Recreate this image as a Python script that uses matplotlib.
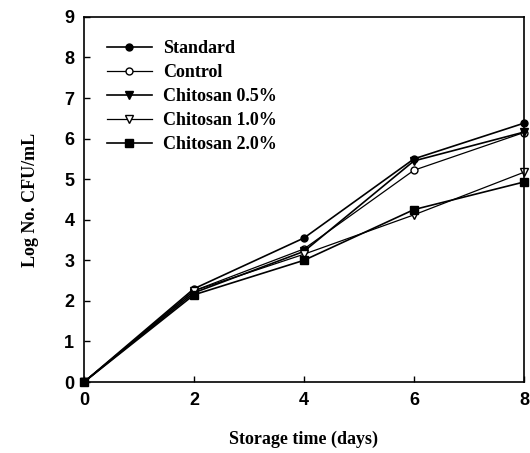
import matplotlib
matplotlib.use("Agg")
import matplotlib.pyplot as plt

days = [0, 2, 4, 6, 8]
standard = [0.0, 2.30, 3.55, 5.50, 6.38]
control = [0.0, 2.25, 3.28, 5.22, 6.15]
chitosan_05 = [0.0, 2.20, 3.22, 5.45, 6.16]
chitosan_10 = [0.0, 2.25, 3.15, 4.12, 5.17]
chitosan_20 = [0.0, 2.15, 3.00, 4.25, 4.93]
labels = ["Standard", "Control", "Chitosan 0.5%", "Chitosan 1.0%", "Chitosan 2.0%"]

fig = plt.figure(figsize=(5.30, 4.53), dpi=100)
ax = fig.add_axes([0.1585, 0.1567, 0.830, 0.806])

styles = [
    dict(marker="o", mfc="black", ms=5, lw=1.2),
    dict(marker="o", mfc="white", ms=5, lw=0.9),
    dict(marker="v", mfc="black", ms=6, lw=1.2),
    dict(marker="v", mfc="white", ms=6, lw=0.9),
    dict(marker="s", mfc="black", ms=6, lw=1.2),
]
for ys, lab, st in zip([standard, control, chitosan_05, chitosan_10, chitosan_20], labels, styles):
    ax.plot(days, ys, color="black", mec="black", label=lab, clip_on=False, **st)

ax.set_xlim(0, 8)
ax.set_ylim(0, 9)
ax.set_xticks([0, 2, 4, 6, 8])
ax.set_yticks(range(0, 10))
ax.tick_params(direction="in", length=4, width=1, labelsize=13, pad=7)
for lbl in ax.get_xticklabels() + ax.get_yticklabels():
    lbl.set_fontfamily("Liberation Sans")
    lbl.set_fontweight("bold")
for s in ax.spines.values():
    s.set_linewidth(1.2)

ax.set_xlabel("Storage time (days)", fontfamily="Liberation Serif", fontweight="bold",
              fontsize=13, labelpad=16)
ax.set_ylabel("Log No. CFU/mL", fontfamily="Liberation Serif", fontweight="bold",
              fontsize=13, labelpad=18)

leg = ax.legend(loc="upper left", bbox_to_anchor=(0.015, 0.98), frameon=False,
                prop=dict(family="Liberation Serif", weight="bold", size=13),
                handlelength=2.5, labelspacing=0.38, handletextpad=0.6)

fig.savefig("out.png", dpi=100)
